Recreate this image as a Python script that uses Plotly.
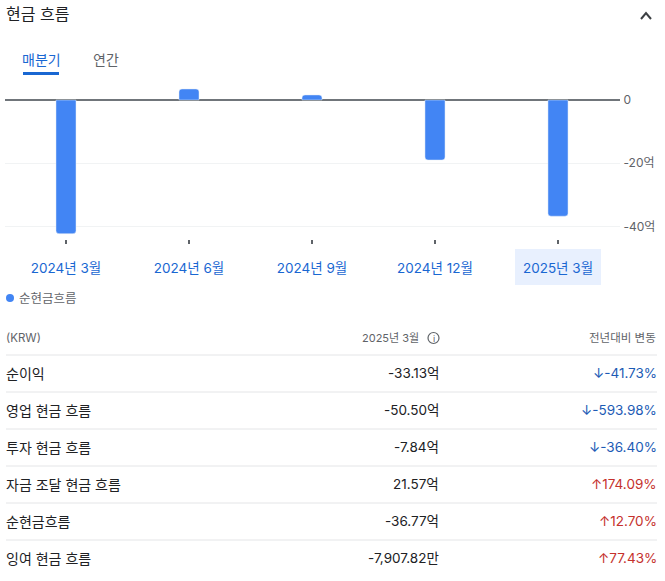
import plotly.graph_objects as go

W = 665
H = 581
FONT = "Inter, 'Noto Sans CJK KR', sans-serif"

periods = ["2024년 3월", "2024년 6월", "2024년 9월", "2024년 12월", "2025년 3월"]
net_cash_flow = [-42.3, 3.5, 1.6, -19.0, -36.77]
y_ticks = [0, -20, -40]
y_tick_labels = ["0", "-20억", "-40억"]

row_names = ["순이익", "영업 현금 흐름", "투자 현금 흐름", "자금 조달 현금 흐름", "순현금흐름", "잉여 현금 흐름"]
row_values = ["-33.13억", "-50.50억", "-7.84억", "21.57억", "-36.77억", "-7,907.82만"]
row_changes = ["↓-41.73%", "↓-593.98%", "↓-36.40%", "↑174.09%", "↑12.70%", "↑77.43%"]

BLUE = "#1967d2"
BAR = "#4285f4"
DOWN = "#1c5bb5"
UP = "#c5312c"
DARK = "#202124"
GREY = "#5f6368"
LINE = "#e4e5e7"


# pixel positions from the top left of the page -> paper coordinates
def px(x):
    return x / W


def py(y):
    return 1 - y / H


def label(x, y, text, size=14, color=DARK, anchor="left"):
    # annotations carry about 2px of padding on the left and right
    nudge = {"left": -2, "right": 1, "center": 0}[anchor]
    return dict(xref="paper", yref="paper", x=px(x + nudge), y=py(y), text=text, showarrow=False,
                xanchor=anchor, yanchor="middle", align=anchor,
                font=dict(family=FONT, size=size, color=color))


def rect(x0, y0, x1, y1, **kw):
    return dict(type="rect", xref="paper", yref="paper", x0=px(x0), x1=px(x1), y0=py(y0), y1=py(y1), **kw)


def hline(x0, x1, y, color=LINE, width=1):
    return dict(type="line", xref="paper", yref="paper", x0=px(x0), x1=px(x1), y0=py(y), y1=py(y),
                line=dict(color=color, width=width))


fig = go.Figure(go.Bar(x=periods, y=net_cash_flow, width=0.163, marker=dict(color=BAR, cornerradius=3)))

annotations = [
    label(6, 14, "현금 흐름", size=16),
    label(41, 59, "매분기", size=14, color=BLUE, anchor="center"),
    label(106, 59, "연간", size=14, color=GREY, anchor="center"),
    label(19, 298, "순현금흐름", size=12.5, color=GREY),
    label(6, 338, "(KRW)", size=11.5, color=GREY),
    label(419.5, 338, "2025년 3월", size=11, color=GREY, anchor="right"),
    label(433.5, 338, "i", size=9, color=GREY, anchor="center"),
    label(657, 338, "전년대비 변동", size=11.5, color=GREY, anchor="right"),
]

shapes = [
    hline(23, 59, 73.5, color=BLUE, width=3),
    rect(515, 249, 601, 285, fillcolor="#e8f0fe", line_width=0, layer="below"),
    dict(type="circle", xref="paper", yref="paper", x0=px(6), x1=px(14), y0=py(302), y1=py(294),
         fillcolor=BAR, line_width=0),
    dict(type="circle", xref="paper", yref="paper", x0=px(428), x1=px(439), y0=py(343.5), y1=py(332.5),
         line=dict(color=GREY, width=1.2)),
    # collapse chevron
    dict(type="path", xref="paper", yref="paper", line=dict(color="#3c4043", width=2),
         path=f"M {px(641)} {py(19)} L {px(646)} {py(13)} L {px(651)} {py(19)}"),
    hline(6, 657, 355),
]

for i in range(len(row_names)):
    y = 373 + i * 37
    color = DOWN if row_changes[i].startswith("↓") else UP
    annotations.append(label(6, y, row_names[i], size=14))
    annotations.append(label(439.5, y, row_values[i], size=13.5, anchor="right"))
    annotations.append(label(657.5, y, row_changes[i], size=13.5, color=color, anchor="right"))
    if i < len(row_names) - 1:
        shapes.append(hline(6, 657, y + 19))

fig.update_layout(
    width=W,
    height=H,
    margin=dict(l=0, r=0, t=0, b=0),
    paper_bgcolor="white",
    plot_bgcolor="white",
    showlegend=False,
    font=dict(family=FONT),
    annotations=annotations,
    shapes=shapes,
    xaxis=dict(
        domain=[px(4.5), px(619.5)],
        anchor="y",
        type="category",
        showgrid=False,
        showline=False,
        zeroline=False,
        ticks="outside",
        ticklen=4,
        tickwidth=2,
        tickcolor=GREY,
        ticklabelstandoff=13,
        tickfont=dict(family=FONT, size=13.5, color=BLUE),
    ),
    yaxis=dict(
        domain=[py(239), py(85)],
        range=[-(239 - 100) / 3.16, (100 - 85) / 3.16],
        side="right",
        anchor="x",
        tickmode="array",
        tickvals=y_ticks,
        ticktext=y_tick_labels,
        ticks="",
        ticklabelstandoff=3,
        showgrid=True,
        gridcolor="#f1f3f4",
        zeroline=True,
        zerolinecolor="#70757a",
        zerolinewidth=2,
        tickfont=dict(family=FONT, size=12, color=GREY),
    ),
)

# page margin would push the figure 8px off the window
fig.write_html("out.html", config=dict(displayModeBar=False), post_script="document.body.style.margin = '0';")
